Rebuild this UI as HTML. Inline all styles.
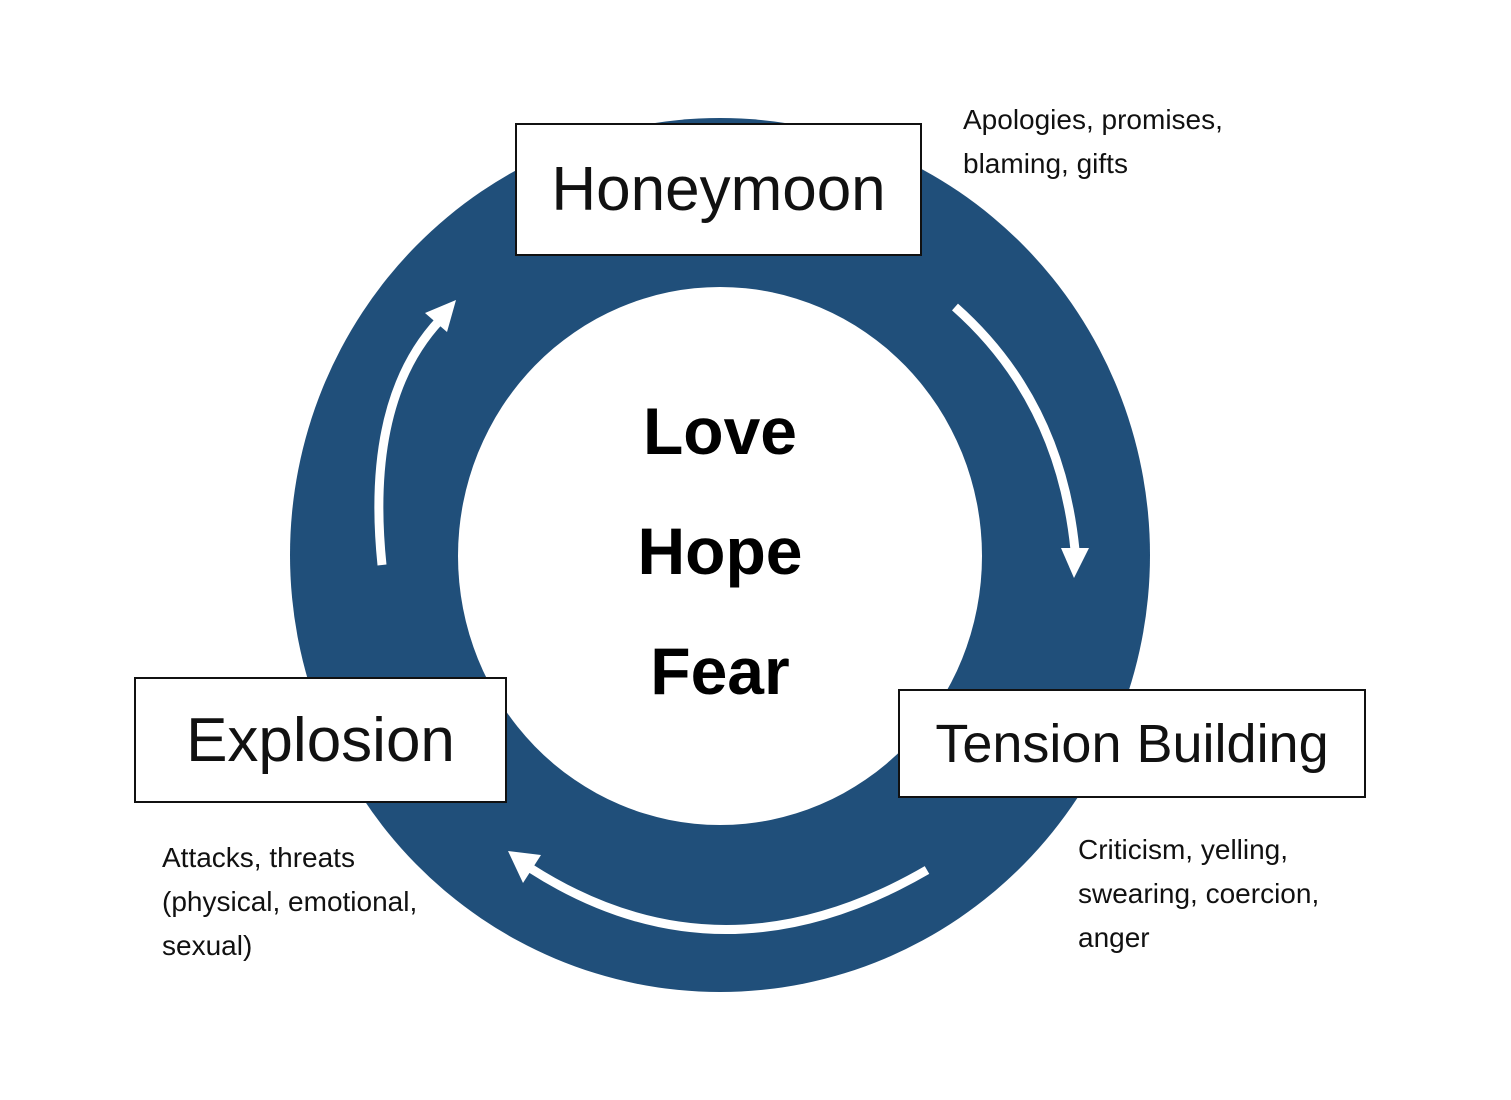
<!DOCTYPE html>
<html><head><meta charset="utf-8">
<style>
html,body{margin:0;padding:0;background:#fff;}
body{width:1511px;height:1100px;position:relative;overflow:hidden;font-family:"Liberation Sans",sans-serif;}
svg{position:absolute;left:0;top:0;}
.box{position:absolute;background:#fff;border:2px solid #111;box-sizing:border-box;display:flex;align-items:center;justify-content:center;color:#111;}
.note{position:absolute;font-size:28px;line-height:44px;color:#111;}
.c{position:absolute;left:520px;width:400px;text-align:center;font-weight:bold;font-size:66px;color:#000;}
</style></head><body>
<svg width="1511" height="1100">
<ellipse cx="720" cy="555" rx="430" ry="437" fill="#204f7a"/>
<ellipse cx="720" cy="556" rx="262" ry="269" fill="#fff"/>
<g fill="none" stroke="#fff" stroke-width="9">
<path d="M955,307 Q1060,400 1075,550"/>
<path d="M927,870 Q720,990 530,868"/>
<path d="M382,565 Q365,400 440,320"/>
</g>
<g fill="#fff">
<polygon points="1061,548 1089,548 1074,578"/>
<polygon points="508,851 541,855 523,883"/>
<polygon points="456,300 447,332 425,313"/>
</g>
</svg>
<div class="box" style="left:515px;top:123px;width:407px;height:133px;font-size:62px;">Honeymoon</div>
<div class="box" style="left:134px;top:677px;width:373px;height:126px;font-size:62px;">Explosion</div>
<div class="box" style="left:898px;top:689px;width:468px;height:109px;font-size:54px;">Tension Building</div>
<div class="note" style="left:963px;top:98px;">Apologies, promises,<br>blaming, gifts</div>
<div class="note" style="left:1078px;top:828px;">Criticism, yelling,<br>swearing, coercion,<br>anger</div>
<div class="note" style="left:162px;top:836px;">Attacks, threats<br>(physical, emotional,<br>sexual)</div>
<div class="c" style="top:393px;">Love</div>
<div class="c" style="top:513px;">Hope</div>
<div class="c" style="top:633px;">Fear</div>
</body></html>
